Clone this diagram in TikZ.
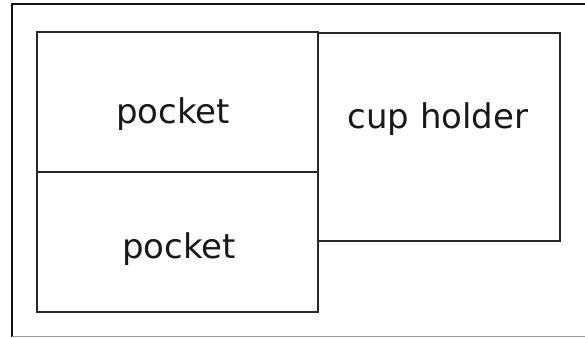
\documentclass[tikz,border=0pt]{standalone}
\usepackage{fontspec}
\setmainfont{DejaVu Sans}
\usetikzlibrary{positioning}
\definecolor{boxline}{RGB}{40,40,40}
\definecolor{frameline}{RGB}{20,20,20}
\tikzstyle{part} = [draw=boxline, line width=1.4pt]
\tikzstyle{partlabel} = [anchor=base, inner sep=0pt, font=\fontsize{34}{40}\selectfont, text=black!90]

\begin{document}
\begin{tikzpicture}[x=1pt, y=-1pt]
\useasboundingbox (0,0) rectangle (585,337);
% outer frame
\draw[frameline, line width=1.5pt] (12,337) -- (12,4) -- (585,4);
\draw[black!40, line width=1pt] (12,336) -- (585,336);
% compartments
\draw[part] (37,32) rectangle (318,172);
\draw[part] (37,172) rectangle (318,312);
\draw[part] (318,33) rectangle (560,241);
% labels
\node (pocketa) [partlabel] at (173,123) {pocket};
\node (pocketb) [partlabel] at (179,258) {pocket};
\node (cup) [partlabel] at (438,128) {cup holder};
\end{tikzpicture}
\end{document}
